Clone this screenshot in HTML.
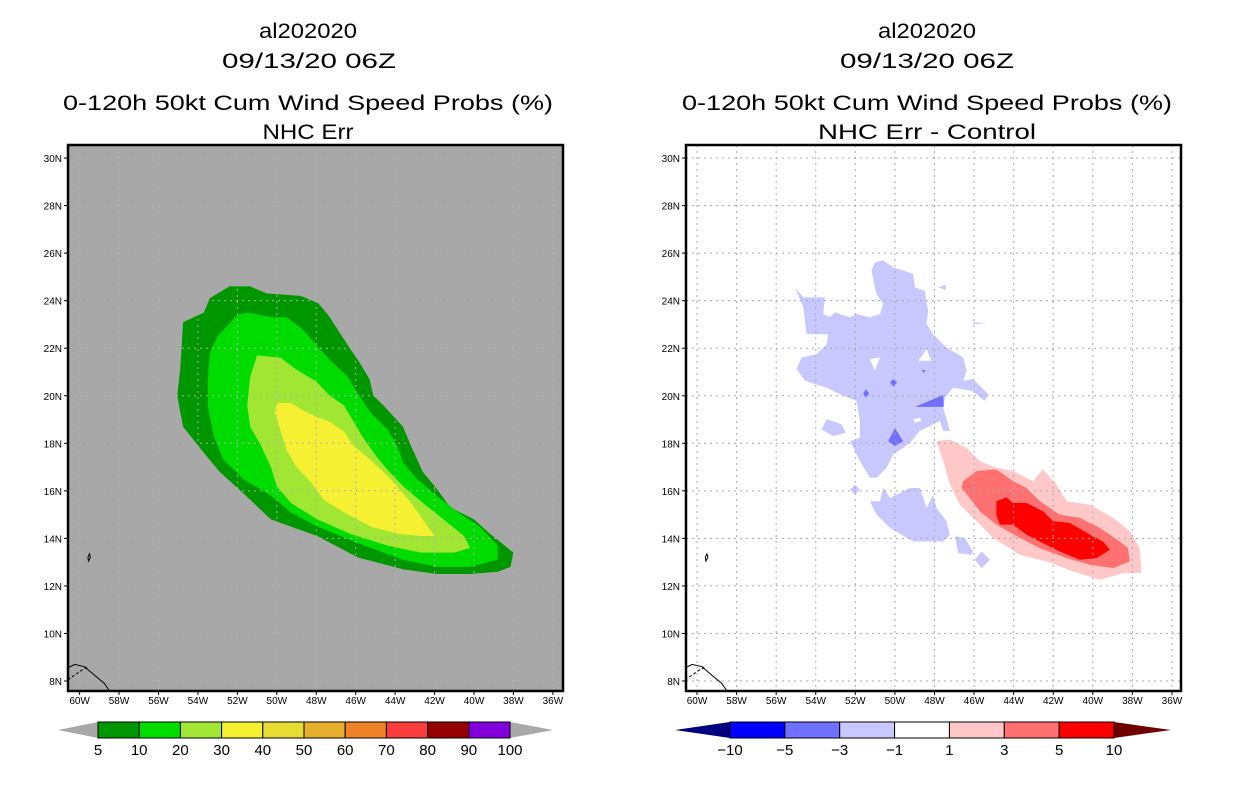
<!DOCTYPE html>
<html><head><meta charset="utf-8"><style>
html,body{margin:0;padding:0;background:#fff;}
svg{display:block;font-family:"Liberation Sans",sans-serif;}
</style></head><body>
<svg id="fig" width="1236" height="800" viewBox="0 0 1236 800">
<g id="titles">
<text x="308" y="38" font-size="21" text-anchor="middle" textLength="98" lengthAdjust="spacingAndGlyphs">al202020</text>
<text x="309" y="68" font-size="21" text-anchor="middle" textLength="174" lengthAdjust="spacingAndGlyphs">09/13/20 06Z</text>
<text x="308" y="110" font-size="21" text-anchor="middle" textLength="490" lengthAdjust="spacingAndGlyphs">0-120h 50kt Cum Wind Speed Probs (%)</text>
<text x="308" y="139" font-size="21" text-anchor="middle" textLength="91" lengthAdjust="spacingAndGlyphs">NHC Err</text>
<text x="927" y="38" font-size="21" text-anchor="middle" textLength="98" lengthAdjust="spacingAndGlyphs">al202020</text>
<text x="927" y="68" font-size="21" text-anchor="middle" textLength="174" lengthAdjust="spacingAndGlyphs">09/13/20 06Z</text>
<text x="927" y="110" font-size="21" text-anchor="middle" textLength="490" lengthAdjust="spacingAndGlyphs">0-120h 50kt Cum Wind Speed Probs (%)</text>
<text x="927" y="139" font-size="21" text-anchor="middle" textLength="218" lengthAdjust="spacingAndGlyphs">NHC Err - Control</text>
</g>
<g id="left"></g>
<g id="right"></g>
<g id="legends"></g>
</svg>
<script>
// ---- data (lon in degrees West, lat in degrees North) ----
const lonTicks = [60,58,56,54,52,50,48,46,44,42,40,38,36];
const latTicks = [8,10,12,14,16,18,20,22,24,26,28,30];
const probLevels = [5,10,20,30,40,50,60,70,80,90,100];
const probColors = ["#009600","#00dc00","#a0e632","#f5f032","#e6dc32","#e6af2d","#f08228","#fa3c3c","#960000","#8200dc"];
const diffLevels = [-10,-5,-3,-1,1,3,5,10];
const diffColors = ["#0000ff","#7070ff","#c8c8ff","#ffffff","#ffc8c8","#ff7070","#ff0000"];

const prob5 = [[52.4,24.6],[51.35,24.6],[50.5,24.3],[48.8,24.2],[47.9,23.9],[47.4,23.4],[46.3,22.0],[45.8,21.4],[45.3,20.7],[45.1,20.0],[44.6,19.6],[43.6,18.7],[43.2,17.9],[42.6,16.8],[41.9,16.1],[41.2,15.3],[40.0,14.8],[39.2,14.2],[38.0,13.4],[38.15,12.8],[38.8,12.6],[40.2,12.5],[41.9,12.5],[43.6,12.7],[45.9,13.2],[47.95,14.1],[49.3,14.5],[50.3,14.8],[51.7,15.9],[52.9,16.8],[53.7,17.6],[54.75,18.7],[55.05,20.0],[54.9,21.1],[54.75,23.1],[53.7,23.5],[53.4,24.1]];
const prob10 = [[52.0,23.4],[51.45,23.5],[50.3,23.3],[49.5,23.3],[48.7,22.8],[47.95,22.1],[47.3,21.5],[46.4,20.8],[45.9,20.1],[45.25,19.3],[44.4,18.6],[43.9,17.9],[43.6,17.2],[42.9,16.5],[41.9,15.8],[40.8,15.1],[39.7,14.5],[38.8,13.7],[38.8,13.1],[40.2,12.8],[41.9,12.8],[43.6,13.1],[45.9,13.8],[47.95,14.5],[49.3,15.1],[50.3,15.8],[51.7,16.5],[52.7,17.3],[53.2,18.3],[53.5,19.6],[53.5,20.7],[53.4,21.8],[53.0,22.5]];
const prob20 = [[51.0,21.7],[49.8,21.6],[49.0,21.1],[48.0,20.6],[47.3,20.0],[46.6,19.6],[46.1,18.9],[45.6,18.2],[44.9,17.4],[44.4,16.9],[43.6,16.2],[42.6,15.5],[41.55,14.8],[40.5,14.1],[40.2,13.6],[41.0,13.4],[42.7,13.4],[44.4,13.7],[46.3,14.2],[47.95,14.8],[49.3,15.5],[50.0,16.2],[50.3,17.0],[50.8,17.9],[51.35,18.7],[51.5,19.6],[51.35,20.8]];
const prob30 = [[50.0,19.7],[49.3,19.7],[48.7,19.4],[47.95,19.1],[47.3,18.9],[46.6,18.5],[46.1,17.9],[45.25,17.3],[44.6,16.8],[43.9,16.2],[43.2,15.5],[42.6,14.8],[42.0,14.1],[42.7,14.1],[43.9,14.2],[45.25,14.5],[46.6,15.1],[47.6,15.6],[48.3,16.4],[49.0,17.0],[49.5,17.7],[49.8,18.5],[50.1,19.3]];

const negMain = [[55.05,24.56],[54.63,24.14],[53.54,24.14],[53.62,23.44],[53.28,23.3],[53.03,23.51],[52.27,23.3],[51.94,23.44],[51.26,23.3],[50.76,23.44],[50.59,23.86],[50.93,24.28],[51.01,24.56],[51.18,25.27],[51.01,25.62],[50.59,25.69],[50.09,25.41],[49.08,25.13],[48.99,24.56],[48.49,24.42],[48.32,23.58],[48.4,23.02],[48.07,22.59],[47.39,22.03],[46.55,21.61],[46.38,21.05],[46.55,20.63],[46.05,20.7],[45.29,20.06],[45.46,19.78],[46.05,20.2],[47.06,20.34],[47.48,19.92],[47.56,19.5],[47.22,18.52],[47.56,18.52],[47.73,18.94],[48.4,18.66],[48.74,18.52],[49.16,18.09],[49.58,17.81],[50.09,17.53],[50.42,16.97],[50.93,16.55],[51.26,16.55],[51.77,17.25],[52.27,18.09],[51.77,18.23],[51.77,18.94],[51.94,19.78],[52.78,20.06],[53.45,20.34],[54.55,20.63],[54.97,21.12],[54.72,21.61],[53.96,21.75],[53.45,22.17],[53.37,22.59],[54.46,22.59],[54.63,23.72]];
const negLower = [[50.59,16.12],[50.25,15.7],[49.92,15.84],[49.24,16.12],[48.74,16.12],[48.4,15.28],[48.07,15.84],[47.9,15.28],[47.39,14.72],[47.22,14.16],[47.56,13.87],[49.08,13.87],[50.25,14.44],[50.93,15.0],[51.26,15.56],[50.76,15.56]];
const negSmall = [
 [[46.97,14.09],[46.47,14.02],[46.05,13.45],[46.13,13.31],[46.8,13.38]],
 [[45.62,13.45],[45.2,13.1],[45.62,12.75],[45.96,13.1]],
 [[53.45,19.01],[52.7,18.8],[52.48,18.45],[53.12,18.3],[53.71,18.59]],
 [[52.02,16.27],[51.77,16.05],[52.02,15.84],[52.27,16.05]],
 [[46.05,23.09],[45.37,23.05],[46.05,23.0]],
 [[47.81,24.56],[47.43,24.68],[47.43,24.45]]
];
const negHoles = [
 [[51.26,21.54],[50.76,21.61],[51.01,21.05]],
 [[48.82,21.47],[48.4,21.96],[48.15,21.47]],
 [[49.08,19.01],[48.74,19.08],[48.65,18.94],[48.99,18.87]]
];
const neg3 = [
 [[50.09,20.7],[49.88,20.56],[50.09,20.39],[50.25,20.56]],
 [[51.47,20.27],[51.3,20.09],[51.47,19.92],[51.6,20.09]],
 [[48.99,19.53],[47.56,20.03],[47.53,19.53]],
 [[50.0,18.63],[49.58,18.09],[50.0,17.88],[50.34,18.09]],
 [[48.65,21.08],[48.44,21.08],[48.54,20.96]]
];
const pos1 = [[47.9,18.09],[47.22,18.16],[46.38,17.81],[45.71,17.25],[44.87,16.97],[44.03,16.83],[43.02,16.41],[42.51,16.9],[41.84,16.27],[41.33,15.56],[40.15,15.42],[38.97,14.86],[38.13,14.3],[37.63,13.59],[37.54,12.54],[38.47,12.54],[39.65,12.26],[41.0,12.61],[42.34,13.03],[43.69,13.31],[45.04,14.02],[46.05,14.86],[46.72,15.42],[47.22,16.27],[47.56,17.25]];
const pos3 = [[46.55,16.41],[45.88,16.83],[44.87,16.9],[44.03,16.41],[43.35,16.12],[42.68,15.56],[41.67,15.0],[40.66,14.86],[39.65,14.44],[38.64,13.87],[38.22,13.59],[38.13,13.03],[38.97,12.75],[40.15,12.89],[41.33,13.17],[42.68,13.59],[43.69,14.02],[44.87,14.58],[45.71,15.14],[46.21,15.7],[46.63,16.12]];
const pos5 = [[44.87,15.56],[44.36,15.73],[44.03,15.49],[43.35,15.49],[42.51,15.14],[42.01,14.72],[41.16,14.65],[40.15,14.16],[39.48,13.87],[39.14,13.52],[39.82,13.17],[40.66,13.1],[41.67,13.45],[42.68,13.87],[43.35,14.16],[44.03,14.58],[44.7,14.58],[44.87,15.0]];
const coastA = [[60.6,8.55],[60.25,8.7],[59.75,8.6],[59.25,8.25],[58.75,7.9],[58.5,7.6]];
const coastB = [[60.6,8.05],[59.9,8.45],[59.6,8.6]];
const island = [[59.58,13.2],[59.5,13.35],[59.45,13.2],[59.55,13.05]];

// ---- rendering ----
const NS = "http://www.w3.org/2000/svg";
const Y0 = 681, YPD = 23.77;
function mk(tag, attrs, parent){const e=document.createElementNS(NS,tag);for(const k in attrs)e.setAttribute(k,attrs[k]);parent.appendChild(e);return e;}
function makePanel(g, left, lon60x, pxPerDeg, bg, gridColor){
  const right = left+495, top=145, bottom=691;
  const X = w => lon60x + (60-w)*pxPerDeg;
  const Y = la => Y0 - (la-8)*YPD;
  const pts = arr => arr.map(p=>X(p[0]).toFixed(1)+","+Y(p[1]).toFixed(1)).join(" ");
  const clipId = "clip"+left;
  const cp = mk("clipPath",{id:clipId},g); mk("rect",{x:left,y:top,width:495,height:546},cp);
  const bgr = mk("rect",{x:left,y:top,width:495,height:546,fill:bg},g);
  
  
  const body = mk("g",{"clip-path":"url(#"+clipId+")"},g);
  return {X,Y,pts,body,left,right,top,bottom,gridColor};
}
function poly(P, arr, fill, name){
  const e = mk("polygon",{points:P.pts(arr),fill:fill},P.body);
  
  
}
function axes(P, g){
  lonTicks.forEach(w=>{
    const x=P.X(w);
    const l=mk("line",{x1:x,y1:P.top,x2:x,y2:P.bottom,stroke:P.gridColor,"stroke-width":1,"stroke-dasharray":"2,4"},P.body);
    
    
    mk("line",{x1:x,y1:P.bottom,x2:x,y2:P.bottom+4,stroke:"#000"},g);
    const t=mk("text",{x:x,y:P.bottom+13,"font-size":10,"text-anchor":"middle"},g);
    t.textContent=w+"W";
    
    
  });
  latTicks.forEach(la=>{
    const y=P.Y(la);
    const l=mk("line",{x1:P.left,y1:y,x2:P.right,y2:y,stroke:P.gridColor,"stroke-width":1,"stroke-dasharray":"2,4"},P.body);
    
    
    mk("line",{x1:P.left-4,y1:y,x2:P.left,y2:y,stroke:"#000"},g);
    const t=mk("text",{x:P.left-6,y:y+4,"font-size":10,"text-anchor":"end"},g);
    t.textContent=la+"N";
    
    
  });
  [coastA,coastB,island].forEach((c,i)=>{
    const e=mk(i==2?"polygon":"polyline",{points:P.pts(c),fill:"none",stroke:"#000","stroke-width":1,"stroke-dasharray":i==1?"3,2":"none"},P.body);
    
    
  });
  const fr=mk("rect",{x:P.left,y:P.top,width:495,height:546,fill:"none",stroke:"#000","stroke-width":2.5},g);
  
  
}
// left panel
const gl=document.getElementById("left");
const L=makePanel(gl,68,79.6,19.72,"#a8a8a8","#b0b0b0");
poly(L,prob5,probColors[0],"prob-5-10-contour");
poly(L,prob10,probColors[1],"prob-10-20-contour");
poly(L,prob20,probColors[2],"prob-20-30-contour");
poly(L,prob30,probColors[3],"prob-30-40-contour");
axes(L,gl);
// right panel
const gr=document.getElementById("right");
const R=makePanel(gr,686,697,19.79,"#ffffff","#a8a8a8");
poly(R,negMain,diffColors[2],"diff-neg1-neg3-main");
poly(R,negLower,diffColors[2],"diff-neg1-neg3-lower");
negSmall.forEach(s=>poly(R,s,diffColors[2],"diff-neg1-neg3-patch"));
negHoles.forEach(s=>poly(R,s,"#ffffff","diff-neutral-hole"));
neg3.forEach(s=>poly(R,s,diffColors[1],"diff-neg3-neg5-patch"));
poly(R,pos1,diffColors[4],"diff-pos1-pos3-contour");
poly(R,pos3,diffColors[5],"diff-pos3-pos5-contour");
poly(R,pos5,diffColors[6],"diff-pos5-pos10-contour");
axes(R,gr);
// colorbars
const gleg=document.getElementById("legends");
function colorbar(levels, colors, x0, x1, tl, tr, lcol, rcol, name){
  const g=mk("g",{},gleg);
  
  
  const y0=722,y1=738,ym=730, w=(x1-x0)/colors.length;
  mk("polygon",{points:`${tl},${ym} ${x0},${y0} ${x0},${y1}`,fill:lcol},g);
  mk("polygon",{points:`${tr},${ym} ${x1},${y0} ${x1},${y1}`,fill:rcol},g);
  colors.forEach((c,i)=>{
    const r=mk("rect",{x:x0+i*w,y:y0,width:w,height:y1-y0,fill:c,stroke:"#000","stroke-width":1},g);
    
    
  });
  levels.forEach((v,i)=>{
    const t=mk("text",{x:x0+i*w,y:755,"font-size":15,"text-anchor":"middle"},g);
    t.textContent=v<0?"\u2212"+(-v):String(v);
    
    
  });
}
colorbar(probLevels,probColors,98,510,58,553,"#a8a8a8","#a8a8a8","prob-colorbar");
colorbar(diffLevels,diffColors,730,1114,675,1171,"#000080","#6e0000","diff-colorbar");
</script>
</body></html>
